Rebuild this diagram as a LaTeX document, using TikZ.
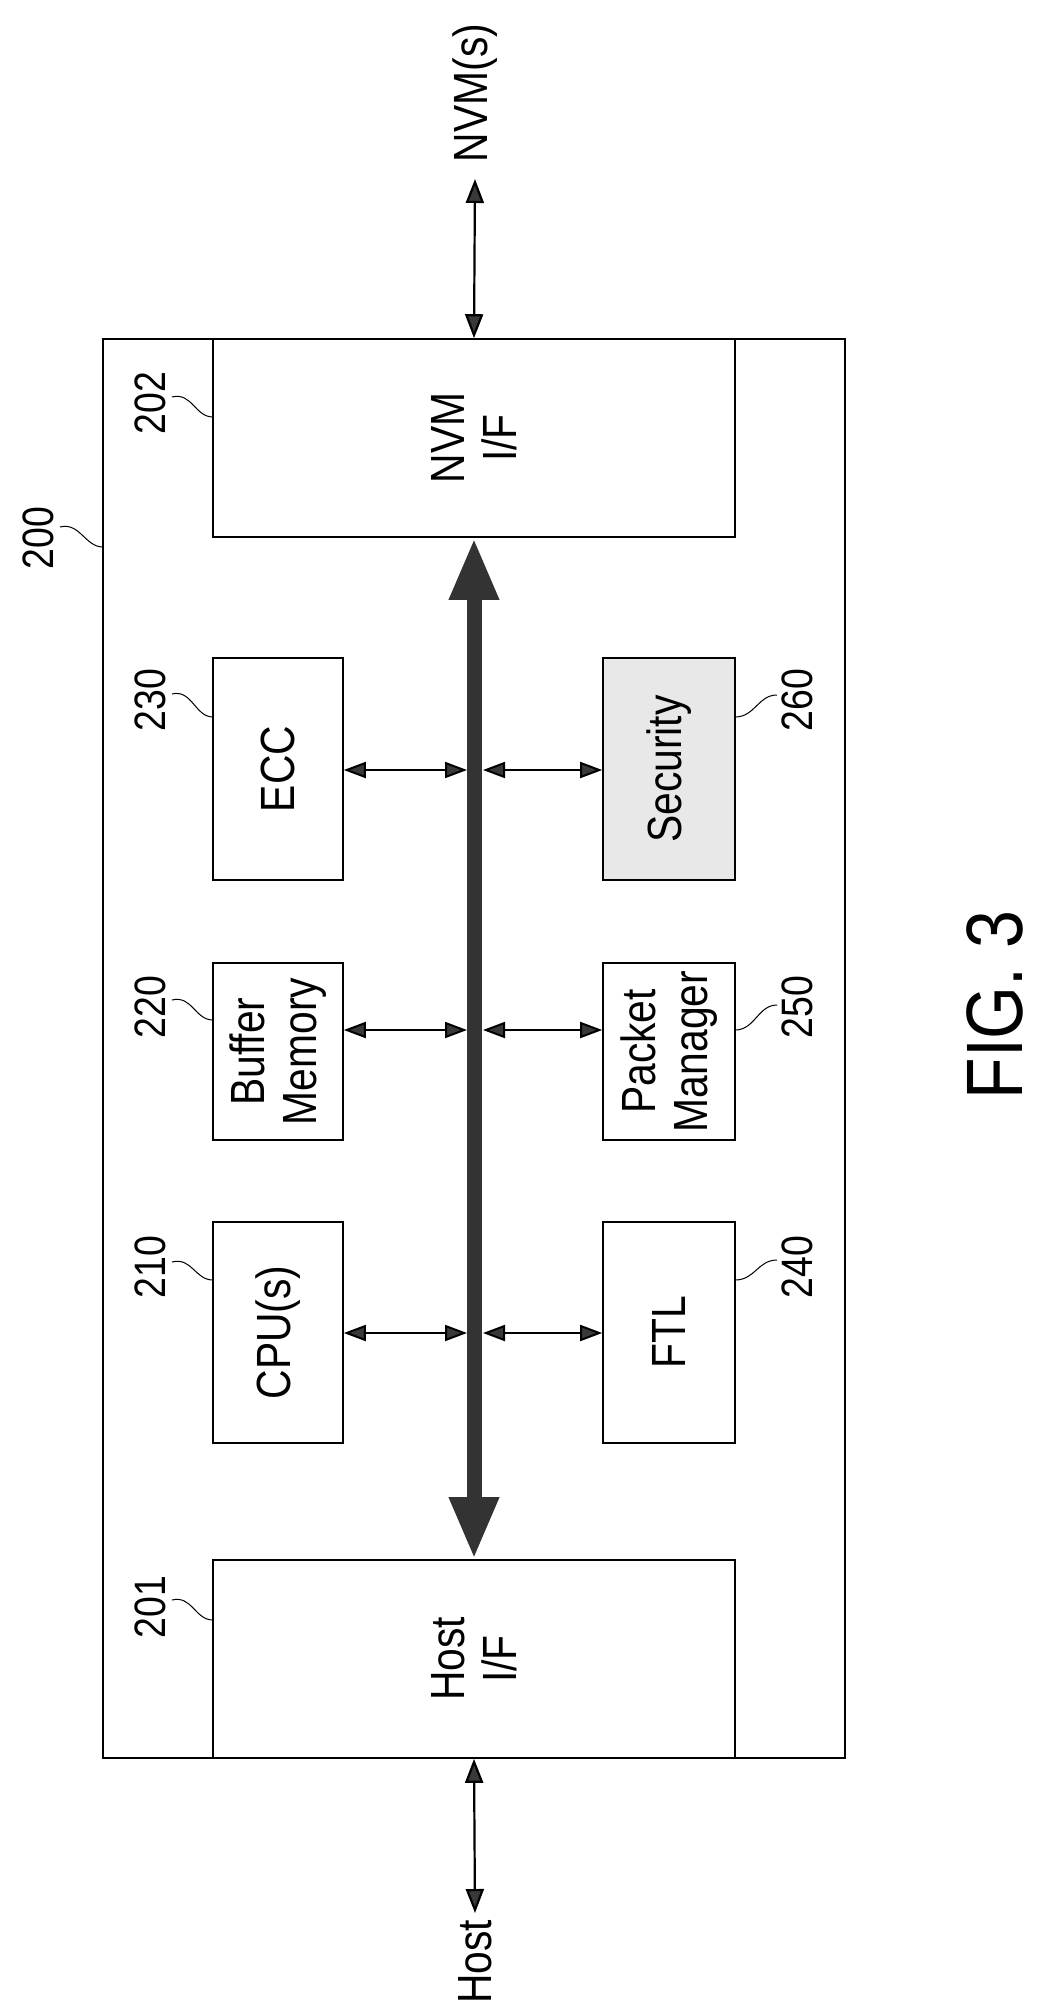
\documentclass[tikz,border=0pt]{standalone}
\usepackage{fontspec}
\setmainfont{Liberation Sans}[FakeStretch=0.85]
\usetikzlibrary{arrows.meta}
\begin{document}
\begin{tikzpicture}[x=1pt,y=-1pt,
  box/.style={draw,line width=1.6pt,minimum width=#1,inner sep=0,fill=white},
  txt/.style={rotate=90,font=\fontsize{48}{52}\selectfont,align=center,inner sep=0},
  lbl/.style={rotate=90,font=\fontsize{44}{48}\selectfont,inner sep=0},
  lead/.style={line width=1pt},
  sm/.style={line width=2pt,{Triangle[length=22pt,width=16pt,fill=gray!45!black]}-{Triangle[length=22pt,width=16pt,fill=gray!45!black]},draw=black},
  io/.style={line width=2.2pt,{Triangle[length=24pt,width=18pt,fill=gray!45!black]}-{Triangle[length=24pt,width=18pt,fill=gray!45!black]}}]
\useasboundingbox (0,0) rectangle (1039,2012);
\node[box=742pt,minimum height=1419pt] (outer) at (474,1048.5) {};
\node[box=522pt,minimum height=198pt] (nvm) at (474,438) {};
\node[txt] at (nvm) {NVM\\I/F};
\node[box=522pt,minimum height=198pt] (host) at (474,1659) {};
\node[txt] at (host) {Host\\I/F};
\node[box=130pt,minimum height=222pt] (ecc) at (278,769) {};
\node[txt] at (ecc) {ECC};
\node[box=132pt,minimum height=222pt,fill=gray!18] (sec) at (669,769) {};
\node[txt] at (sec) {Security};
\node[box=130pt,minimum height=177pt] (buf) at (278,1051.5) {};
\node[txt] at (buf) {Buffer\\Memory};
\node[box=132pt,minimum height=177pt] (pkt) at (669,1051.5) {};
\node[txt] at (pkt) {Packet\\Manager};
\node[box=130pt,minimum height=221pt] (cpu) at (278,1332.5) {};
\node[txt] at (cpu) {CPU(s)};
\node[box=132pt,minimum height=221pt] (ftl) at (669,1332.5) {};
\node[txt] at (ftl) {FTL};
% bus
\draw[line width=15pt,draw=gray!40!black,{Triangle[length=62pt,width=46pt,fill=gray!40!black]}-{Triangle[length=62pt,width=46pt,fill=gray!40!black]}] (nvm.south) -- (host.north);
% side arrows
\coordinate (eL) at (467,770); \coordinate (eR) at (483,770);
\coordinate (bL) at (467,1030); \coordinate (bR) at (483,1030);
\coordinate (cL) at (467,1333); \coordinate (cR) at (483,1333);
\draw[sm] (ecc.east |- eL) -- (eL);
\draw[sm] (eR) -- (sec.west |- eR);
\draw[sm] (buf.east |- bL) -- (bL);
\draw[sm] (bR) -- (pkt.west |- bR);
\draw[sm] (cpu.east |- cL) -- (cL);
\draw[sm] (cR) -- (ftl.west |- cR);
% external
\node[txt] (nvms) at (475,93) {NVM(s)};
\node[txt] (hostt) at (475,1962) {Host};
\coordinate (nt) at (475,179);
\coordinate (ht) at (475,1913);
\draw[io] (nt) -- (nvm.north);
\draw[io] (host.south) -- (ht);
% labels
\node[lbl] (l200) at (38,538) {200};
\node[lbl] (l202) at (150,403) {202};
\node[lbl] (l230) at (150,700) {230};
\node[lbl] (l220) at (150,1007) {220};
\node[lbl] (l210) at (150,1267) {210};
\node[lbl] (l201) at (150,1607) {201};
\node[lbl] (l260) at (797,700) {260};
\node[lbl] (l250) at (797,1007) {250};
\node[lbl] (l240) at (797,1267) {240};
\draw[lead] (60,527) .. controls (80,522) and (85,547) .. (103,547);
\draw[lead] (172,397) .. controls (192,392) and (195,417) .. (213,417);
\draw[lead] (172,694) .. controls (192,689) and (195,717) .. (213,717);
\draw[lead] (172,1000) .. controls (192,995) and (195,1020) .. (213,1020);
\draw[lead] (172,1262) .. controls (192,1257) and (195,1280) .. (213,1280);
\draw[lead] (172,1600) .. controls (192,1595) and (195,1620) .. (213,1620);
\draw[lead] (735,717) .. controls (755,717) and (758,695) .. (777,695);
\draw[lead] (735,1030) .. controls (755,1030) and (758,1005) .. (777,1005);
\draw[lead] (735,1280) .. controls (755,1280) and (758,1260) .. (777,1260);
\node[rotate=90,font=\fontsize{80}{84}\selectfont,inner sep=0] (fig) at (995,1005) {FIG. 3};
\end{tikzpicture}
\end{document}
